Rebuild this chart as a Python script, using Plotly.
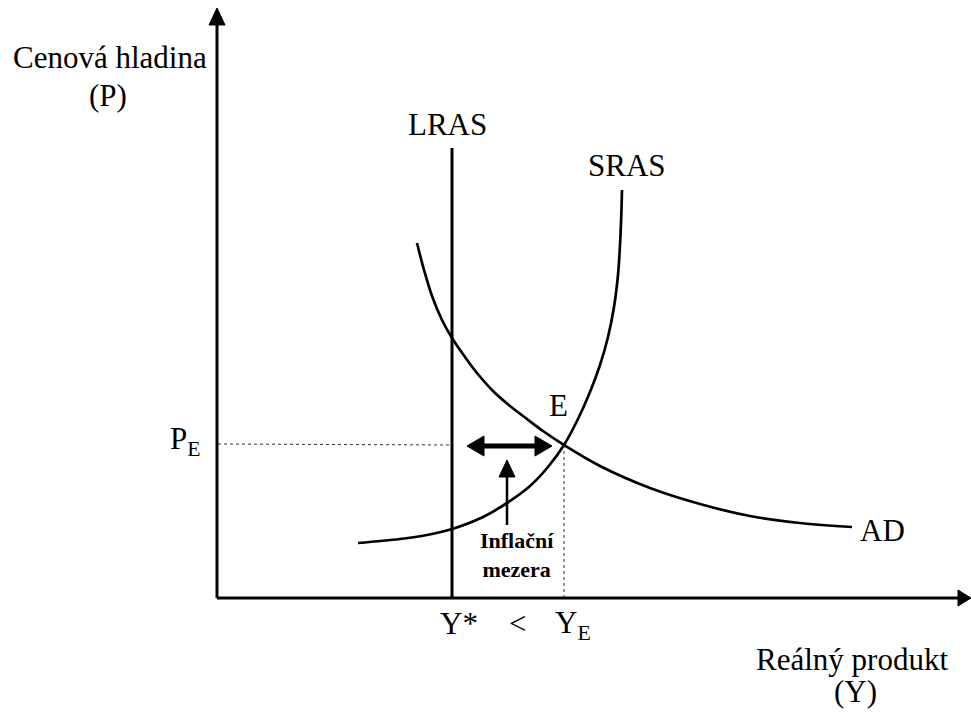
import plotly.graph_objects as go

# Coordinates (origin at the axes' corner)
sras_x = [141, 183, 210, 235, 266, 290, 313, 331, 347, 360, 373, 383, 391, 397, 401, 403, 404.3, 405]
sras_y = [55, 59, 63, 69, 81, 95, 112, 131, 153, 177, 206, 233, 261, 291, 323, 353, 383, 408]

ad_x = [200, 207, 215, 225, 235, 248, 260, 276, 293, 310, 326, 347, 383, 433, 483, 533, 583, 635]
ad_y = [355, 328, 302, 278, 260, 241, 225, 207, 192, 179, 167, 153, 132, 110, 94, 82, 75, 71]

lras_x = 235
lras_top = 450
eq_x, eq_y = 346, 153
x_max, y_max = 754, 590

gap_left, gap_right = 250, 335
gap_pointer_x, gap_pointer_from, gap_pointer_to = 290, 73, 138

fig = go.Figure()

FONT = "Liberation Serif, Times New Roman, serif"
black = "black"

# curves
fig.add_trace(go.Scatter(x=sras_x, y=sras_y, mode="lines",
                         line=dict(color=black, width=2.7, shape="spline", smoothing=1.0),
                         hoverinfo="skip"))
fig.add_trace(go.Scatter(x=ad_x, y=ad_y, mode="lines",
                         line=dict(color=black, width=2.7, shape="spline", smoothing=1.0),
                         hoverinfo="skip"))
# LRAS
fig.add_trace(go.Scatter(x=[lras_x, lras_x], y=[0, lras_top], mode="lines",
                         line=dict(color=black, width=3), hoverinfo="skip"))
# dotted guides
fig.add_trace(go.Scatter(x=[1, lras_x], y=[eq_y + 1, eq_y], mode="lines",
                         line=dict(color="#333", width=1, dash="dot"), hoverinfo="skip"))
fig.add_trace(go.Scatter(x=[eq_x + 1, eq_x + 1], y=[0, eq_y], mode="lines",
                         line=dict(color="#333", width=1, dash="dot"), hoverinfo="skip"))

shapes = []
# axes
shapes.append(dict(type="line", x0=0, y0=0, x1=0, y1=y_max - 14, line=dict(color=black, width=3)))
shapes.append(dict(type="line", x0=0, y0=0, x1=x_max - 12, y1=0, line=dict(color=black, width=3)))
shapes.append(dict(type="path", path=f"M -8 {y_max-17} L 8 {y_max-17} L 0 {y_max} Z",
                   fillcolor=black, line=dict(color=black, width=1)))
shapes.append(dict(type="path", path=f"M {x_max-13} -8 L {x_max-13} 8 L {x_max} 0 Z",
                   fillcolor=black, line=dict(color=black, width=1)))
# double-headed arrow (inflation gap)
shapes.append(dict(type="line", x0=gap_left + 14, y0=eq_y - 1, x1=gap_right - 14, y1=eq_y - 1,
                   line=dict(color=black, width=5)))
shapes.append(dict(type="path",
                   path=f"M {gap_left} {eq_y-1} L {gap_left+17} {eq_y+9} L {gap_left+17} {eq_y-11} Z",
                   fillcolor=black, line=dict(color=black, width=1)))
shapes.append(dict(type="path",
                   path=f"M {gap_right} {eq_y-1} L {gap_right-17} {eq_y+9} L {gap_right-17} {eq_y-11} Z",
                   fillcolor=black, line=dict(color=black, width=1)))
# pointer arrow
shapes.append(dict(type="line", x0=gap_pointer_x, y0=gap_pointer_from, x1=gap_pointer_x,
                   y1=gap_pointer_to - 14, line=dict(color=black, width=2.5)))
shapes.append(dict(type="path",
                   path=f"M {gap_pointer_x-8} {gap_pointer_to-17} L {gap_pointer_x+8} {gap_pointer_to-17} L {gap_pointer_x} {gap_pointer_to} Z",
                   fillcolor=black, line=dict(color=black, width=1)))

def label(x, y, text, size=31, bold=False, xanchor="center"):
    return dict(x=x, y=y, text=f"<b>{text}</b>" if bold else text, showarrow=False,
                xanchor=xanchor, yanchor="middle",
                font=dict(family=FONT, size=size, color=black))

annotations = [
    label(-107, 541, "Cenová hladina"),
    label(-109, 503, "(P)"),
    label(230, 474, "LRAS"),
    label(410, 433, "SRAS"),
    label(341, 193, "E"),
    label(665, 68, "AD"),
    label(-32, 157, "P<sub>E</sub>"),
    label(242, -25, "Y*"),
    label(300, -25, "<"),
    label(356, -27, "Y<sub>E</sub>"),
    label(300, 43, "Inflační<br>mezera", size=22, bold=True),
    label(635, -61, "Reálný produkt"),
    label(638, -93, "(Y)"),
]

fig.update_layout(
    width=971, height=715, autosize=False,
    margin=dict(l=0, r=0, t=0, b=0),
    paper_bgcolor="white", plot_bgcolor="white",
    showlegend=False,
    xaxis=dict(range=[-217, 754], visible=False, fixedrange=True),
    yaxis=dict(range=[-117, 598], visible=False, fixedrange=True),
    shapes=shapes,
    annotations=annotations,
)

fig.write_html(
    "out.html",
    config={"displayModeBar": False},
    post_script="document.body.style.margin='0';"
                "document.body.style.overflow='hidden';"
                "document.documentElement.style.overflow='hidden';",
)
